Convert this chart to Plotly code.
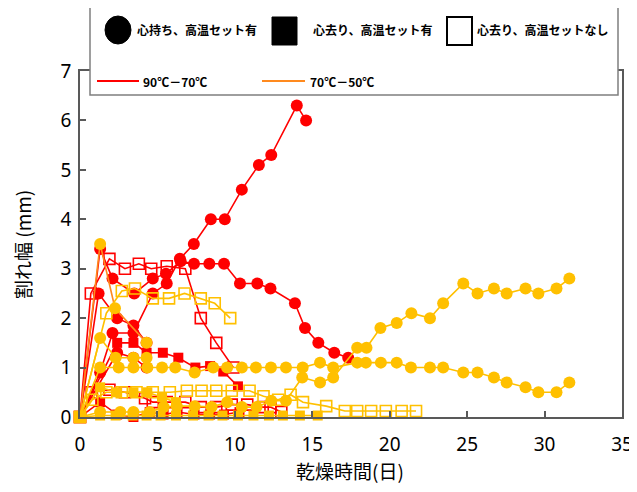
import plotly.graph_objects as go

# ---------------- data ----------------
# Red (90°C-70°C)
red_circ_a_x = [0, 1.3, 2.1, 3.45, 4.7, 5.6, 6.45, 7.35, 8.45, 9.35, 10.45, 11.55, 12.35, 14.0, 14.6]
red_circ_a_y = [0, 0.9, 1.7, 1.7, 2.5, 2.7, 3.2, 3.5, 4.0, 4.0, 4.6, 5.1, 5.3, 6.3, 6.0]
red_circ_b_x = [0, 1.2, 2.4, 3.45, 4.3]
red_circ_b_y = [0, 2.5, 2.0, 1.85, 1.5]
red_circ_c_x = [0, 1.3, 2.1, 3.5, 4.7, 5.55, 6.5, 7.36, 8.35, 9.3, 10.33, 11.45, 12.3, 13.88, 14.53, 15.39, 16.42, 17.32]
red_circ_c_y = [0, 3.4, 2.8, 2.5, 2.8, 2.9, 3.15, 3.1, 3.1, 3.1, 2.7, 2.7, 2.6, 2.3, 1.8, 1.5, 1.3, 1.2]
red_circ_d_x = [0, 2.4, 3.45, 4.3]
red_circ_d_y = [0, 1.3, 1.2, 1.0]
red_sq_a_x = [0, 2.4, 3.45, 4.3, 5.35, 6.35, 7.45, 8.4, 9.25, 10.2]
red_sq_a_y = [0, 1.5, 1.5, 1.3, 1.3, 1.2, 1.0, 1.03, 0.92, 0.62]
red_sq_b_x = [0, 1.3, 2.4, 3.45, 4.5, 5.4, 6.3, 7.4, 8.4, 9.3, 10.3]
red_sq_b_y = [0, 0.3, 0.05, 0.0, 0.1, 0.05, 0.1, 0.05, 0.05, 0.05, 0.1]
red_open_u_x = [0, 0.7, 1.9, 2.9, 3.8, 4.6, 5.6, 6.8, 7.8, 8.8, 9.9]
red_open_u_y = [0, 2.5, 3.2, 3.0, 3.1, 3.0, 3.05, 3.0, 2.0, 1.5, 1.0]
red_open_l_x = [0, 0.75, 1.9, 2.9, 4.2, 4.7, 5.6, 6.8, 7.8, 8.8, 9.8, 10.8, 11.8, 12.3, 13.0]
red_open_l_y = [0, 0.5, 0.55, 0.5, 0.38, 0.3, 0.3, 0.3, 0.2, 0.2, 0.25, 0.25, 0.2, 0.2, 0.1]

# Orange (70°C-50°C)
orange_circ_x = [0, 1.3, 2.26, 4.3]
orange_circ_y = [0, 3.5, 2.2, 1.5]

# Yellow
yel_circ_a_x = [0, 1.3, 2.6, 3.45, 4.5, 5.4, 6.25, 7.4, 8.5, 9.5, 10.45, 11.4, 12.35, 13.3, 14.35, 15.5,
                16.35, 17.9, 18.5, 19.4, 20.45, 21.4, 22.6, 23.45, 24.75, 25.67, 26.73, 27.55, 28.77,
                29.6, 30.77, 31.6]
yel_circ_a_y = [0, 0.1, 0.1, 0.1, 0.1, 0.2, 0.22, 0.22, 0.2, 0.3, 0.2, 0.2, 0.33, 0.33, 0.8, 0.7,
                0.8, 1.4, 1.4, 1.8, 1.9, 2.1, 2.0, 2.3, 2.7, 2.5, 2.6, 2.5, 2.6, 2.5, 2.6, 2.8]
yel_circ_b_x = [0, 1.3, 2.5, 3.45, 4.35, 5.3, 6.15, 7.4, 8.6, 9.5, 10.45, 11.36, 12.33, 13.3, 14.38,
                15.5, 16.35, 17.9, 18.46, 19.43, 20.45, 21.37, 22.6, 23.45, 24.75, 25.67, 26.73,
                27.55, 28.77, 29.6, 30.77, 31.6]
yel_circ_b_y = [0, 1.0, 1.0, 1.0, 1.0, 1.0, 1.0, 0.9, 1.0, 1.0, 1.0, 1.0, 1.0, 1.0, 1.0,
                1.1, 1.0, 1.1, 1.1, 1.1, 1.1, 1.0, 1.0, 1.0, 0.9, 0.9, 0.8, 0.7, 0.6, 0.5, 0.5, 0.7]
yel_circ_c_x = [0, 1.3, 2.3, 3.45, 4.3]
yel_circ_c_y = [0, 1.6, 1.2, 1.2, 1.2]
yel_open_u_x = [0, 1.7, 2.7, 3.55, 4.7, 5.75, 6.75, 7.8, 8.7, 9.7]
yel_open_u_y = [0, 2.1, 2.55, 2.6, 2.4, 2.4, 2.5, 2.4, 2.3, 2.0]
yel_open_l_x = [0, 0.8, 1.7, 2.7, 3.65, 4.7, 5.8, 6.9, 7.85, 8.8, 9.8, 10.95, 11.85, 12.8, 13.6,
                14.4, 15.9, 17.1, 17.9, 18.8, 19.75, 20.77, 21.7]
yel_open_l_y = [0, 0.35, 0.5, 0.5, 0.5, 0.5, 0.5, 0.53, 0.53, 0.53, 0.53, 0.53, 0.42, 0.35, 0.45,
                0.3, 0.22, 0.12, 0.12, 0.12, 0.12, 0.12, 0.12]
yel_sq_a_x = [0, 1.3, 2.4, 3.45, 4.35, 5.3, 6.2]
yel_sq_a_y = [0, 0.6, 0.5, 0.5, 0.5, 0.4, 0.3]
yel_sq_b_x = [0, 1.3, 2.3, 3.4, 4.3, 5.2, 6.2, 7.3, 8.3, 9.2, 10.2, 11.2, 12.2, 13.1, 14.2, 15.35]
yel_sq_b_y = [0, 0.03, 0.03, 0.03, 0.03, 0.03, 0.03, 0.03, 0.03, 0.03, 0.03, 0.03, 0.03, 0.03, 0.03, 0.03]

x_ticks = [0, 5, 10, 15, 20, 25, 30, 35]
y_ticks = [0, 1, 2, 3, 4, 5, 6, 7]

x_title = "乾燥時間(日)"
y_title = "割れ幅 (mm)"
legend_marker_labels = ["心持ち、高温セット有", "心去り、高温セット有", "心去り、高温セットなし"]
legend_line_labels = ["90℃－70℃", "70℃－50℃"]

RED = "#FF0000"
ORANGE = "#FF8A1E"
YEL = "#FFC000"

fig = go.Figure()


def add(xs, ys, line_color, marker_color, kind):
    if kind == "circle":
        marker = dict(symbol="circle", size=12, color=marker_color, line=dict(width=0))
    elif kind == "square":
        marker = dict(symbol="square", size=10, color=marker_color, line=dict(width=0))
    else:
        marker = dict(symbol="square-open", size=11, color=marker_color, line=dict(width=1.6))
    fig.add_trace(go.Scatter(x=xs, y=ys, mode="lines+markers",
                             line=dict(color=line_color, width=1.6),
                             marker=marker, showlegend=False, hoverinfo="skip", cliponaxis=False))


# red series
add(red_sq_b_x, red_sq_b_y, RED, RED, "square")
add(red_open_l_x, red_open_l_y, RED, RED, "open")
add(red_circ_d_x, red_circ_d_y, RED, RED, "circle")
add(red_sq_a_x, red_sq_a_y, RED, RED, "square")
add(red_open_u_x, red_open_u_y, RED, RED, "open")
add(red_circ_b_x, red_circ_b_y, RED, RED, "circle")
add(red_circ_a_x, red_circ_a_y, RED, RED, "circle")
add(red_circ_c_x, red_circ_c_y, RED, RED, "circle")
# orange
add(orange_circ_x, orange_circ_y, ORANGE, YEL, "circle")
# yellow
add(yel_open_u_x, yel_open_u_y, YEL, YEL, "open")
add(yel_open_l_x, yel_open_l_y, YEL, YEL, "open")
add(yel_sq_a_x, yel_sq_a_y, YEL, YEL, "square")
add(yel_sq_b_x, yel_sq_b_y, YEL, YEL, "square")
add(yel_circ_c_x, yel_circ_c_y, YEL, YEL, "circle")
add(yel_circ_b_x, yel_circ_b_y, YEL, YEL, "circle")
add(yel_circ_a_x, yel_circ_a_y, YEL, YEL, "circle")

# ---------------- layout ----------------
# the page body adds an 8px offset; positions below are in screen pixels
OFF = 8
W, H = 637, 492
L, R, T, B = 80 - OFF, W - (622 - OFF), 71 - OFF, H - (417 - OFF)
PW, PH = W - L - R, H - T - B


def px(x):
    return (x - OFF - L) / PW


def py(y):
    return (H - B - (y - OFF)) / PH


AX = "#595959"
shapes = []
annotations = []
# legend box
shapes.append(dict(type="rect", xref="paper", yref="paper", x0=px(90), x1=px(618), y0=py(95), y1=py(5),
                   fillcolor="white", line=dict(color="#7F7F7F", width=1.5), layer="above"))
# markers in legend
shapes.append(dict(type="circle", xref="paper", yref="paper", x0=px(105), x1=px(131), y0=py(44), y1=py(16),
                   fillcolor="black", line=dict(color="black", width=1), layer="above"))
shapes.append(dict(type="rect", xref="paper", yref="paper", x0=px(272), x1=px(297), y0=py(45), y1=py(17),
                   fillcolor="black", line=dict(color="black", width=1), layer="above"))
shapes.append(dict(type="rect", xref="paper", yref="paper", x0=px(447), x1=px(472), y0=py(45), y1=py(17),
                   fillcolor="white", line=dict(color="black", width=2), layer="above"))
shapes.append(dict(type="line", xref="paper", yref="paper", x0=px(97), x1=px(139), y0=py(81), y1=py(81),
                   line=dict(color=RED, width=2), layer="above"))
shapes.append(dict(type="line", xref="paper", yref="paper", x0=px(262), x1=px(305), y0=py(81), y1=py(81),
                   line=dict(color=ORANGE, width=2), layer="above"))

LEG_FONT = dict(family="Noto Sans CJK JP", size=12, color="black")
for lbl, xx in zip(legend_marker_labels, [135, 311, 475]):
    annotations.append(dict(text="<b>" + lbl + "</b>", xref="paper", yref="paper", x=px(xx), y=py(30),
                            xanchor="left", yanchor="middle", showarrow=False, font=LEG_FONT))
for lbl, xx in zip(legend_line_labels, [141, 308]):
    annotations.append(dict(text="<b>" + lbl + "</b>", xref="paper", yref="paper", x=px(xx), y=py(81),
                            xanchor="left", yanchor="middle", showarrow=False, font=LEG_FONT))
# axis titles
annotations.append(dict(text=x_title, xref="paper", yref="paper", x=px(350), y=py(470),
                        xanchor="center", yanchor="middle", showarrow=False,
                        font=dict(family="Noto Sans CJK JP", size=19, color="black")))
annotations.append(dict(text=y_title, xref="paper", yref="paper", x=px(22), y=py(245),
                        xanchor="center", yanchor="middle", showarrow=False, textangle=-90,
                        font=dict(family="Noto Sans CJK JP", size=19, color="black")))

fig.update_layout(
    width=W, height=H,
    margin=dict(l=L, r=R, t=T, b=B),
    paper_bgcolor="white", plot_bgcolor="white",
    font=dict(family="Noto Sans CJK JP", color="black"),
    shapes=shapes, annotations=annotations,
    xaxis=dict(range=[0, 35], tickvals=x_ticks, ticktext=[str(v) for v in x_ticks],
               showgrid=False, zeroline=False, showline=True, linecolor=AX, linewidth=1.5,
               mirror=True, ticks="inside", ticklen=6, tickcolor=AX, tickwidth=1.5, automargin=False,
               ticklabelstandoff=9,
               tickfont=dict(family="Noto Sans", size=19, color="black")),
    yaxis=dict(range=[0, 7], tickvals=y_ticks, ticktext=[str(v) for v in y_ticks],
               showgrid=False, zeroline=False, showline=True, linecolor=AX, linewidth=1.5,
               mirror=True, ticks="inside", ticklen=6, tickcolor=AX, tickwidth=1.5, automargin=False,
               ticklabelstandoff=3,
               tickfont=dict(family="Noto Sans", size=19, color="black")),
)

fig.write_html("out.html")
